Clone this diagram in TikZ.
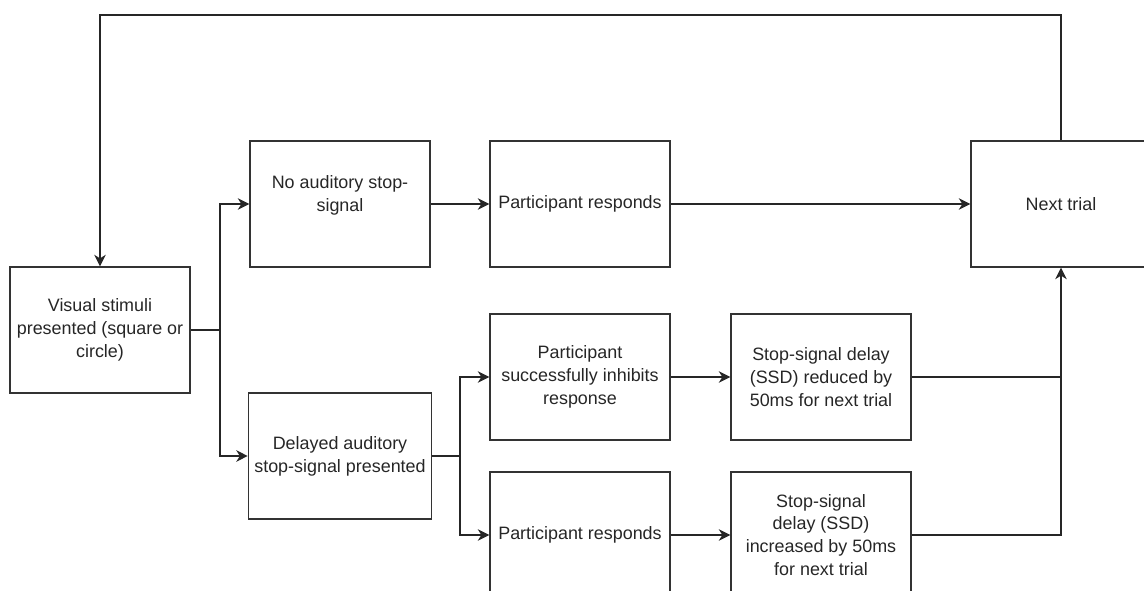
\documentclass[tikz,border=0pt]{standalone}
\usepackage{fontspec}
\setmainfont{Liberation Sans}
\usetikzlibrary{arrows.meta}
\usetikzlibrary{calc}

\begin{document}
\begin{tikzpicture}[x=0.02cm, y=-0.02cm,
        stagebox/.style = {draw=black!80, line width=0.85pt, minimum width=3.6cm, minimum height=2.52cm, align=center, font=\fontsize{10.2}{13}\selectfont, text=black!85},
        flow/.style = {black!85, line width=0.85pt},
        flowarrow/.style = {flow, -{Stealth[length=6.5pt, width=6.5pt, inset=2pt]}}]
            \useasboundingbox (0,0) rectangle (1144,591);
            \node[stagebox] (vis) at (100,330) {Visual stimuli\\presented (square or\\circle)};
            \node[stagebox] (noaud) at (340,204) {No auditory stop-\\signal\\[-1pt]};
            \node[stagebox] (resp1) at (580,204) {Participant responds};
            \node[stagebox] (next) at (1061,204) {Next trial};
            \node[stagebox] (delayed) at (340,456) {Delayed auditory\\stop-signal presented};
            \node[stagebox] (inhibit) at (580,377) {Participant\\successfully inhibits\\response};
            \node[stagebox] (reduced) at (821,377) {Stop-signal delay\\(SSD) reduced by\\50ms for next trial};
            \node[stagebox] (resp2) at (580,535) {Participant responds};
            \node[stagebox] (increased) at (821,535) {Stop-signal\\delay (SSD)\\increased by 50ms\\for next trial};

            \coordinate (split1) at (220,330);
            \coordinate (split2) at (460,456);
            \coordinate (loop) at (1061,15);

            \draw[flowarrow] (next.north) -- (loop) -| (vis.north);
            \draw[flow] (vis.east) -- (split1);
            \draw[flowarrow] (split1) |- (noaud.west);
            \draw[flowarrow] (split1) |- (delayed.west);
            \draw[flowarrow] (noaud.east) -- (resp1.west);
            \draw[flowarrow] (resp1.east) -- (next.west);
            \draw[flow] (delayed.east) -- (split2);
            \draw[flowarrow] (split2) |- (inhibit.west);
            \draw[flowarrow] (split2) |- (resp2.west);
            \draw[flowarrow] (inhibit.east) -- (reduced.west);
            \draw[flowarrow] (resp2.east) -- (increased.west);
            \draw[flow] (reduced.east) -- (reduced.east -| next.south);
            \draw[flowarrow] (increased.east) -| (next.south);
        \end{tikzpicture}
\end{document}
